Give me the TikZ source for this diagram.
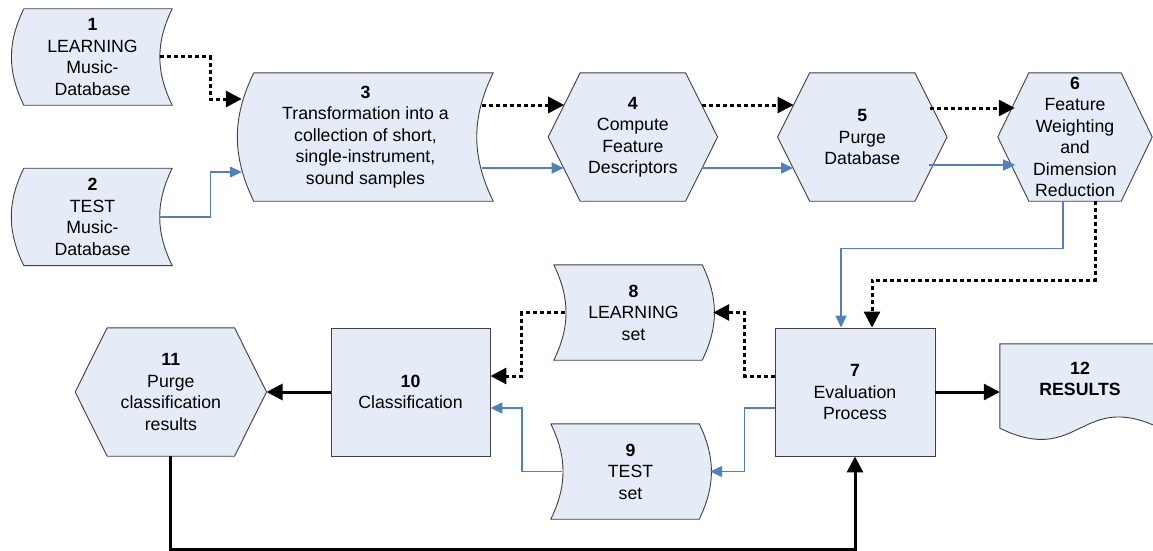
\documentclass[tikz,border=0pt]{standalone}
\usepackage{fontspec}
\setmainfont{Liberation Sans}
\usetikzlibrary{positioning,backgrounds,arrows.meta}
\definecolor{boxfill}{RGB}{229,235,247}
\definecolor{flowblue}{RGB}{79,129,189}

\begin{document}
\begin{tikzpicture}[x=1pt, y=1pt,
  Tn/.style={inner sep=0pt, align=center, font=\fontsize{17.7}{21.5}\selectfont},
  bx/.style={Tn, draw=black!75, line width=0.9pt, fill=boxfill, minimum width=160, minimum height=128},
  shp/.style={draw=black!75, line width=0.9pt, fill=boxfill},
  dotarr/.style={line width=3pt, dash pattern=on 4pt off 3pt, -{Triangle[length=16pt,width=16pt]}},
  bluarr/.style={flowblue, line width=1.4pt, -{Triangle[length=12pt,width=11pt]}},
  solarr/.style={line width=3pt, -{Triangle[length=16pt,width=16pt]}}]
\useasboundingbox (0,0) rectangle (1153,-551);

\node[Tn, minimum width=159, minimum height=96] at (92.5,-57) (s1) {\textbf{1}\\LEARNING\\Music-\\Database};
\node[Tn, minimum width=159, minimum height=97, below=63pt of s1] (s2) {\textbf{2}\\TEST\\Music-\\Database};
\node[Tn, minimum width=255, minimum height=128] at (365.5,-137) (s3) {\textbf{3}\\Transformation into a\\collection of short,\\single-instrument,\\sound samples};
\node[Tn, minimum width=169, minimum height=128, right=55pt of s3] (h4) {\textbf{4}\\Compute\\Feature\\Descriptors};
\node[Tn, minimum width=169, minimum height=128, right=60pt of h4] (h5) {\textbf{5}\\Purge\\Database};
\node[Tn, minimum width=154, minimum height=128] at (1075,-137) (h6) {\textbf{6}\\Feature\\Weighting\\and\\Dimension\\Reduction};

\node[bx] at (855,-392) (b7) {\textbf{7}\\Evaluation\\Process};
\node[Tn, minimum width=159, minimum height=95] at (633.5,-312.5) (s8) {\textbf{8}\\LEARNING\\set};
\node[Tn, minimum width=159, minimum height=95] at (630.5,-471.5) (s9) {\textbf{9}\\TEST\\set};
\node[bx, minimum width=159] at (410.5,-392) (b10) {\textbf{10}\\Classification};
\node[Tn, minimum width=191, minimum height=128, left=64pt of b10] (h11) {\textbf{11}\\Purge\\classification\\results};
\node[Tn, minimum width=160, minimum height=70] at (1080,-379) (r12) {\textbf{12}\\\textbf{RESULTS}};

% outlines behind the texts
\begin{scope}[on background layer]
\foreach \nm/\bw in {s1/11,s2/11,s3/16}
  \draw[shp] ([xshift=\bw]\nm.north west) -- (\nm.north east) to[bend right=26] (\nm.south east)
    -- ([xshift=\bw]\nm.south west) to[bend left=26] ([xshift=\bw]\nm.north west);
\foreach \nm in {s8,s9}
  \draw[shp] (\nm.north west) -- ([xshift=-11]\nm.north east) to[bend left=26] ([xshift=-11]\nm.south east)
    -- (\nm.south west) to[bend right=26] (\nm.north west);
\foreach \nm/\dd in {h4/32,h5/32,h6/31,h11/32}
  \draw[shp] ([xshift=\dd]\nm.north west) -- ([xshift=-\dd]\nm.north east) -- (\nm.east)
    -- ([xshift=-\dd]\nm.south east) -- ([xshift=\dd]\nm.south west) -- (\nm.west) -- cycle;
\draw[shp] ([yshift=-14]r12.south west) -- (r12.north west) -- (r12.north east) -- ([yshift=-14]r12.south east)
  .. controls +(-80,39) and +(80,-39) .. ([yshift=-14]r12.south west) -- cycle;
\end{scope}

% top row
\draw[dotarr] ([xshift=-12]s1.east) -- ++(50,0) |- ([xshift=4,yshift=38]s3.west);
\draw[bluarr] ([xshift=-12]s2.east) -- ++(50,0) |- ([xshift=4,yshift=-35]s3.west);
\draw[dotarr] ([xshift=-11,yshift=32]s3.east) -- ([xshift=16,yshift=32]h4.west);
\draw[bluarr] ([xshift=-11,yshift=-31]s3.east) -- ([xshift=15.5,yshift=-31]h4.west);
\draw[dotarr] ([xshift=-16,yshift=32]h4.east) -- ([xshift=16,yshift=32]h5.west);
\draw[bluarr] ([xshift=-15.5,yshift=-31]h4.east) -- ([xshift=15.5,yshift=-31]h5.west);
\draw[dotarr] ([xshift=-17.5,yshift=29]h5.east) -- ([xshift=17,yshift=29]h6.west);
\draw[bluarr] ([xshift=-18,yshift=-28]h5.east) -- ([xshift=17.4,yshift=-28]h6.west);

% down to the evaluation
\draw[bluarr] ([xshift=-12]h6.south) -- ++(0,-47) -| ([xshift=-14]b7.north);
\draw[dotarr] ([xshift=20]h6.south) -- ++(0,-79) -| ([xshift=17]b7.north);

% bottom row
\draw[dotarr] ([yshift=16]b7.west) -- ++(-30,0) |- (s8.east);
\draw[bluarr] ([yshift=-16]b7.west) -- ++(-30,0) |- (s9.east);
\draw[dotarr] ([xshift=11]s8.west) -- ++(-43,0) |- ([yshift=16]b10.east);
\draw[bluarr] ([xshift=11]s9.west) -- ++(-40,0) |- ([yshift=-16]b10.east);
\draw[solarr] (b10.west) -- (h11.east);
\draw[solarr] (h11.south) -- ++(0,-93.5) -| (b7.south);
\draw[solarr] (b7.east) -- (b7.east -| r12.west);

\end{tikzpicture}
\end{document}
